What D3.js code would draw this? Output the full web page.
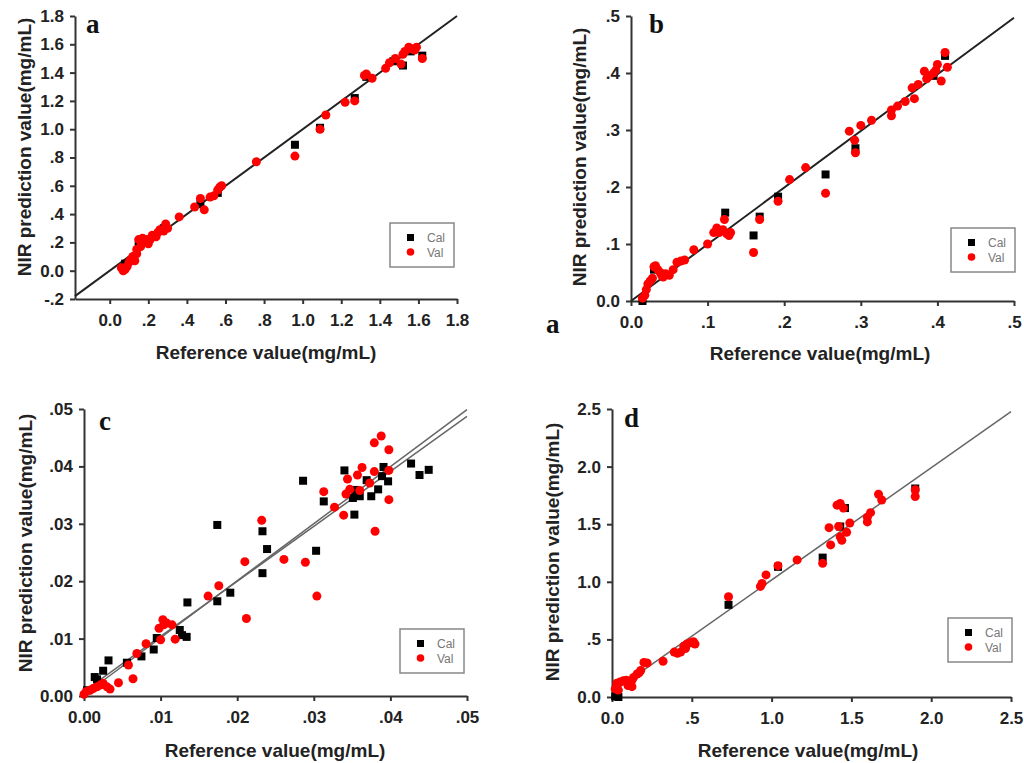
<!DOCTYPE html>
<html>
<head>
<meta charset="utf-8">
<style>
html, body { margin: 0; padding: 0; background: #fff; }
svg { display: block; }
.tick text { font-family: "Liberation Sans", Arial, sans-serif; font-weight: bold; font-size: 17px; fill: #222; }
.domain, .tick line { stroke: #333; stroke-width: 2; }
.title { font-family: "Liberation Sans", Arial, sans-serif; font-weight: bold; font-size: 19px; fill: #222; }
.letter { font-family: "Liberation Serif", "Times New Roman", serif; font-weight: bold; font-size: 27px; fill: #111; }
.leg { font-family: "Liberation Sans", Arial, sans-serif; font-size: 12px; fill: #777; }
</style>
<script src="https://cdn.jsdelivr.net/npm/d3@7"></script>
</head>
<body>
<script>
// ---- panel a ----
var calA = [[0.08,0.05],[0.15,0.18],[0.28,0.30],[0.47,0.47],[0.56,0.55],[0.96,0.89],[1.09,1.01],
  [1.27,1.22],[1.33,1.37],[1.47,1.48],[1.52,1.45],[1.56,1.55],[1.62,1.52]];
var valA = [[0.06,0.02],[0.07,0.0],[0.08,0.01],[0.09,0.03],[0.10,0.06],[0.11,0.08],[0.12,0.10],[0.13,0.07],
  [0.14,0.15],[0.15,0.22],[0.16,0.21],[0.17,0.23],[0.18,0.20],[0.19,0.22],[0.20,0.19],[0.16,0.17],[0.14,0.12],
  [0.21,0.22],[0.22,0.25],[0.24,0.24],[0.25,0.27],[0.26,0.29],[0.28,0.28],[0.29,0.33],[0.30,0.30],
  [0.36,0.38],[0.44,0.45],[0.47,0.51],[0.49,0.43],[0.52,0.52],[0.54,0.53],[0.56,0.57],[0.57,0.59],[0.58,0.60],
  [0.76,0.77],[0.96,0.81],[1.09,1.00],[1.12,1.10],[1.22,1.19],[1.27,1.20],[1.32,1.38],[1.33,1.39],[1.36,1.36],
  [1.43,1.43],[1.45,1.47],[1.48,1.50],[1.51,1.46],[1.52,1.53],[1.53,1.55],[1.55,1.58],[1.56,1.57],[1.58,1.56],
  [1.59,1.58],[1.62,1.50]];
var fitA = [[-0.18,-0.18],[1.8,1.8]];
var xTicksA = [0,0.2,0.4,0.6,0.8,1.0,1.2,1.4,1.6,1.8];
var xLabelsA = ["0.0",".2",".4",".6",".8","1.0","1.2","1.4","1.6","1.8"];
var yTicksA = [-0.2,0,0.2,0.4,0.6,0.8,1.0,1.2,1.4,1.6,1.8];
var yLabelsA = ["-.2","0.0",".2",".4",".6",".8","1.0","1.2","1.4","1.6","1.8"];

// ---- panel b ----
var calB = [[0.015,0.0],[0.03,0.055],[0.123,0.155],[0.16,0.115],[0.168,0.148],[0.192,0.183],
  [0.254,0.222],[0.293,0.268],[0.395,0.395],[0.41,0.43]];
var valB = [[0.015,0.005],[0.018,0.01],[0.02,0.02],[0.022,0.03],[0.025,0.035],[0.028,0.04],[0.03,0.06],
  [0.032,0.062],[0.035,0.055],[0.038,0.05],[0.04,0.045],[0.042,0.042],[0.045,0.048],[0.05,0.045],[0.055,0.055],
  [0.06,0.068],[0.065,0.07],[0.07,0.072],[0.082,0.09],[0.1,0.1],[0.108,0.12],[0.112,0.128],[0.115,0.12],
  [0.12,0.125],[0.122,0.143],[0.125,0.118],[0.128,0.115],[0.13,0.12],[0.16,0.085],[0.168,0.143],[0.192,0.175],
  [0.207,0.213],[0.228,0.234],[0.254,0.189],[0.285,0.298],[0.292,0.282],[0.293,0.26],[0.3,0.308],[0.314,0.317],
  [0.34,0.335],[0.34,0.325],[0.348,0.342],[0.358,0.35],[0.367,0.374],[0.37,0.355],[0.375,0.38],[0.383,0.403],
  [0.386,0.39],[0.39,0.395],[0.395,0.4],[0.398,0.405],[0.4,0.415],[0.405,0.386],[0.41,0.436],[0.413,0.41]];
var fitB = [[0.0,0.0],[0.5,0.497]];
var xTicksB = [0,0.1,0.2,0.3,0.4,0.5];
var xLabelsB = ["0.0",".1",".2",".3",".4",".5"];
var yTicksB = [0,0.1,0.2,0.3,0.4,0.5];
var yLabelsB = ["0.0",".1",".2",".3",".4",".5"];

// ---- panel c ----
var calC = [[0.0004,0.001],[0.0014,0.0033],[0.0017,0.0029],[0.0025,0.0044],[0.0032,0.0062],[0.0056,0.0058],
  [0.0075,0.0069],[0.0091,0.0081],[0.0095,0.0101],[0.0125,0.0115],[0.0128,0.0106],[0.0134,0.0103],
  [0.0135,0.0163],[0.0174,0.0165],[0.0174,0.0298],[0.0191,0.018],[0.0233,0.0214],[0.0233,0.0287],
  [0.0239,0.0256],[0.0286,0.0375],[0.0303,0.0253],[0.0313,0.0339],[0.034,0.0393],[0.0351,0.0345],
  [0.0353,0.0316],[0.0354,0.0359],[0.036,0.0348],[0.0369,0.0376],[0.0375,0.0348],[0.0384,0.036],
  [0.0389,0.0383],[0.0391,0.0399],[0.0397,0.0374],[0.0427,0.0405],[0.0438,0.0385],[0.045,0.0394]];
var valC = [[0.0,0.0003],[0.0003,0.0008],[0.0008,0.001],[0.0012,0.0013],[0.0017,0.0016],[0.0021,0.0019],
  [0.0025,0.0022],[0.003,0.0016],[0.0034,0.0012],[0.0045,0.0023],[0.0058,0.0054],[0.0064,0.003],
  [0.0069,0.0074],[0.0081,0.0091],[0.0098,0.0118],[0.01,0.0098],[0.0103,0.0133],[0.0104,0.0124],
  [0.0108,0.0127],[0.0115,0.0124],[0.0119,0.0099],[0.0162,0.0174],[0.0176,0.0192],[0.021,0.0234],
  [0.0212,0.0135],[0.0232,0.0306],[0.0261,0.0238],[0.0289,0.0233],[0.0304,0.0174],[0.0313,0.0356],
  [0.0327,0.0329],[0.0339,0.0315],[0.0342,0.0352],[0.0344,0.0378],[0.0347,0.036],[0.0357,0.0385],
  [0.036,0.0358],[0.0363,0.0398],[0.0373,0.0371],[0.0379,0.0441],[0.0379,0.0391],[0.038,0.0287],
  [0.0388,0.0453],[0.0398,0.0429],[0.0398,0.0393],[0.0398,0.0342]];
var fitC1 = [[0.0008,0.001],[0.05,0.0499]];
var fitC2 = [[0.0008,0.0016],[0.05,0.0487]];
var xTicksC = [0,0.01,0.02,0.03,0.04,0.05];
var xLabelsC = ["0.00",".01",".02",".03",".04",".05"];
var yTicksC = [0,0.01,0.02,0.03,0.04,0.05];
var yLabelsC = ["0.00",".01",".02",".03",".04",".05"];

// ---- panel d ----
var calD = [[0.02,0.005],[0.04,0.0],[0.46,0.44],[0.73,0.8],[1.04,1.13],[1.32,1.21],[1.43,1.48],
  [1.46,1.64],[1.9,1.81]];
var valD = [[0.02,0.07],[0.03,0.12],[0.05,0.13],[0.07,0.14],[0.09,0.145],[0.1,0.1],[0.115,0.12],[0.125,0.09],
  [0.135,0.17],[0.157,0.2],[0.18,0.23],[0.2,0.3],[0.22,0.295],[0.17,0.21],[0.125,0.145],[0.04,0.06],
  [0.32,0.31],[0.39,0.39],[0.41,0.38],[0.43,0.39],[0.45,0.44],[0.47,0.46],[0.49,0.47],[0.51,0.48],
  [0.52,0.46],[0.46,0.42],[0.73,0.87],[0.93,0.96],[0.94,0.985],[0.965,1.06],[1.04,1.14],[1.16,1.19],
  [1.32,1.16],[1.37,1.32],[1.36,1.47],[1.41,1.665],[1.43,1.68],[1.45,1.64],[1.42,1.48],[1.43,1.39],
  [1.44,1.36],[1.47,1.43],[1.49,1.51],[1.6,1.56],[1.6,1.52],[1.62,1.6],[1.67,1.76],[1.69,1.71],
  [1.9,1.8],[1.9,1.74]];
var fitD = [[0.02,0.06],[2.5,2.4775]];
var xTicksD = [0,0.5,1.0,1.5,2.0,2.5];
var xLabelsD = ["0.0",".5","1.0","1.5","2.0","2.5"];
var yTicksD = [0,0.5,1.0,1.5,2.0,2.5];
var yLabelsD = ["0.0",".5","1.0","1.5","2.0","2.5"];

var svg = d3.select("body").append("svg")
  .attr("width", 1024)
  .attr("height", 763);

var drawPanel = function(p) {
  var x = d3.scaleLinear().domain(p.xDomain).range(p.xRange);
  var y = d3.scaleLinear().domain(p.yDomain).range(p.yRange);
  var g = svg.append("g");

  g.append("g")
    .attr("transform", "translate(0," + p.yRange[0] + ")")
    .call(d3.axisBottom(x).tickValues(p.xTicks).tickFormat(function(d, i) { return p.xLabels[i]; })
      .tickSizeInner(5).tickSizeOuter(0).tickPadding(10));

  g.append("g")
    .attr("transform", "translate(" + p.xRange[0] + ",0)")
    .call(d3.axisLeft(y).tickValues(p.yTicks).tickFormat(function(d, i) { return p.yLabels[i]; })
      .tickSizeInner(5).tickSizeOuter(0).tickPadding(6));

  var line = d3.line().x(function(d) { return x(d[0]); }).y(function(d) { return y(d[1]); });
  p.fits.forEach(function(f) {
    g.append("path").datum(f)
      .attr("d", line)
      .attr("fill", "none")
      .attr("stroke", p.fitColor)
      .attr("stroke-width", p.fitWidth);
  });

  g.selectAll("rect.cal").data(p.cal).enter().append("rect")
    .attr("class", "cal")
    .attr("x", function(d) { return x(d[0]) - 4; })
    .attr("y", function(d) { return y(d[1]) - 4; })
    .attr("width", 8).attr("height", 8)
    .attr("fill", "#000");

  g.selectAll("circle.val").data(p.val).enter().append("circle")
    .attr("class", "val")
    .attr("cx", function(d) { return x(d[0]); })
    .attr("cy", function(d) { return y(d[1]); })
    .attr("r", 4.5)
    .attr("fill", "#f00");

  g.append("text").attr("class", "title")
    .attr("x", p.xTitle[0]).attr("y", p.xTitle[1])
    .attr("text-anchor", "middle").attr("dy", "0.35em")
    .text("Reference value(mg/mL)");

  g.append("text").attr("class", "title")
    .attr("transform", "translate(" + p.yTitle[0] + "," + p.yTitle[1] + ") rotate(-90)")
    .attr("text-anchor", "middle").attr("dy", "0.35em")
    .text("NIR prediction value(mg/mL)");

  g.append("text").attr("class", "letter")
    .attr("x", p.letterPos[0]).attr("y", p.letterPos[1])
    .text(p.letter);

  // legend
  var lg = g.append("g").attr("transform", "translate(" + p.legend[0] + "," + p.legend[1] + ")");
  lg.append("rect").attr("width", 64).attr("height", 44)
    .attr("fill", "#fff").attr("stroke", "#888").attr("stroke-width", 1.5);
  lg.append("rect").attr("x", 17).attr("y", 11).attr("width", 7).attr("height", 7).attr("fill", "#000");
  lg.append("circle").attr("cx", 20.5).attr("cy", 29).attr("r", 3.8).attr("fill", "#f00");
  lg.append("text").attr("class", "leg").attr("x", 37).attr("y", 19).text("Cal");
  lg.append("text").attr("class", "leg").attr("x", 37).attr("y", 33.5).text("Val");
};

drawPanel({
  xDomain: [-0.18, 1.8], xRange: [75, 457], yDomain: [-0.2, 1.8], yRange: [299, 16],
  xTicks: xTicksA, xLabels: xLabelsA, yTicks: yTicksA, yLabels: yLabelsA,
  cal: calA, val: valA, fits: [fitA], fitColor: "#222", fitWidth: 2,
  xTitle: [266, 352], yTitle: [24, 147], letter: "a", letterPos: [86, 33], legend: [390, 223]
});

drawPanel({
  xDomain: [0, 0.5], xRange: [631, 1014], yDomain: [0, 0.5], yRange: [301, 16],
  xTicks: xTicksB, xLabels: xLabelsB, yTicks: yTicksB, yLabels: yLabelsB,
  cal: calB, val: valB, fits: [fitB], fitColor: "#222", fitWidth: 2,
  xTitle: [820, 353], yTitle: [579, 157], letter: "b", letterPos: [649, 33], legend: [951, 228]
});

drawPanel({
  xDomain: [0, 0.05], xRange: [84, 467], yDomain: [0, 0.05], yRange: [696, 409],
  xTicks: xTicksC, xLabels: xLabelsC, yTicks: yTicksC, yLabels: yLabelsC,
  cal: calC, val: valC, fits: [fitC1, fitC2], fitColor: "#666", fitWidth: 1.5,
  xTitle: [275, 750], yTitle: [25, 543], letter: "c", letterPos: [99, 430], legend: [400, 629]
});

drawPanel({
  xDomain: [0, 2.5], xRange: [612, 1011], yDomain: [0, 2.5], yRange: [697, 409],
  xTicks: xTicksD, xLabels: xLabelsD, yTicks: yTicksD, yLabels: yLabelsD,
  cal: calD, val: valD, fits: [fitD], fitColor: "#666", fitWidth: 1.5,
  xTitle: [808, 750], yTitle: [552, 552], letter: "d", letterPos: [624, 427], legend: [948, 618]
});

// stray label that sits under panel b in the original figure
svg.append("text").attr("class", "letter")
  .attr("x", 546).attr("y", 333)
  .text("a");
</script>
</body>
</html>
